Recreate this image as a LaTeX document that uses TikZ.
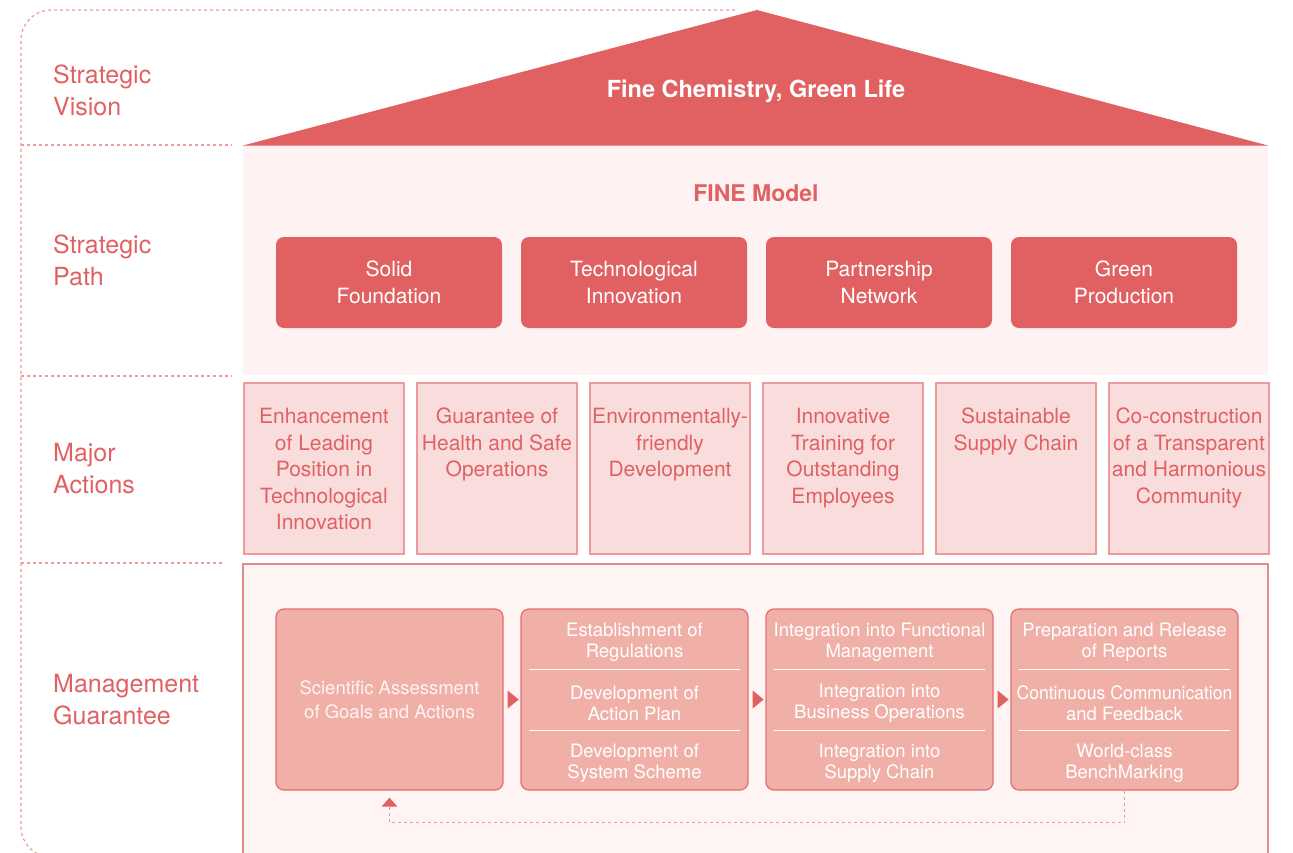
\documentclass[tikz,border=0pt]{standalone}
\usepackage{fontspec}
\setmainfont{TeX Gyre Heros}
\usetikzlibrary{arrows.meta,calc}
\definecolor{cred}{HTML}{E16163}
\definecolor{pathbg}{HTML}{FEF3F2}
\definecolor{actfill}{HTML}{F9DDDD}
\definecolor{actdraw}{HTML}{EE9A9B}
\definecolor{mgmtbg}{HTML}{FEF4F3}
\definecolor{mgmtdraw}{HTML}{E6898B}
\definecolor{mfill}{HTML}{F0B0A8}
\definecolor{mdraw}{HTML}{E27071}
\definecolor{dcol}{HTML}{EE9A9A}
\definecolor{mtxt}{HTML}{FFF4F2}
\begin{document}
\begin{tikzpicture}[x=1pt,y=-1pt,
  lbl/.style={anchor=west,text=cred,font=\fontsize{25}{32}\selectfont,align=left,inner sep=0},
  pbox/.style={fill=cred,rounded corners=8pt,minimum width=226pt,minimum height=91pt,inner sep=0,text=white,font=\fontsize{21}{27}\selectfont,align=center},
  abox/.style={fill=actfill,draw=actdraw,line width=1.2pt,minimum width=160pt,minimum height=171pt,inner sep=0},
  atext/.style={anchor=north,text=cred,font=\fontsize{21}{26.5}\selectfont,align=center,inner sep=0},
  mbox/.style={fill=mfill,draw=mdraw,line width=1.3pt,rounded corners=8pt,minimum width=227pt,minimum height=181pt,inner sep=0},
  mtext/.style={text=white,font=\fontsize{18.5}{21}\selectfont,align=center,inner sep=0},
  sepline/.style={draw=white,line width=0.9pt},
  dsh/.style={draw=dcol,line width=1.2pt,dash pattern=on 3pt off 3pt},
  titletext/.style={text=white,font=\bfseries\fontsize{23.5}{28}\selectfont,inner sep=0}
]
\useasboundingbox (0,0) rectangle (1293,852);
\clip (0,0) rectangle (1293,852);

% outer dashed outline and separators
\draw[dsh,rounded corners=30pt] (735,10) -- (21,10) -- (21,857) -- (120,857);
\draw[dsh] (21,145) -- (232,145);
\draw[dsh] (21,376) -- (232,376);
\draw[dsh] (21,563) -- (222,563);

% left labels
\node[lbl] (lv) at (53,90) {Strategic\\Vision};
\node[lbl] (lp) at (53,260) {Strategic\\Path};
\node[lbl] (la) at (53,469) {Major\\Actions};
\node[lbl] (lm) at (53,700) {Management\\Guarantee};

% roof
\fill[pathbg] (243,145) rectangle (1268,375);
\fill[cred] (243,145.5) -- (757,10) -- (1268,145.5) -- cycle;
\node[titletext] (roof) at (756,91) {Fine Chemistry, Green Life};

% strategic path
\node[text=cred,font=\bfseries\fontsize{23}{28}\selectfont,inner sep=0] (fine) at (756,193) {FINE Model};
\node[pbox] (p1) at (389,282.5) {Solid\\Foundation};
\node[pbox] (p2) at (634,282.5) {Technological\\Innovation};
\node[pbox] (p3) at (879,282.5) {Partnership\\Network};
\node[pbox] (p4) at (1124,282.5) {Green\\Production};

% major actions
\node[abox] (a1) at (324,468.5) {};
\node[abox] (a2) at (497,468.5) {};
\node[abox] (a3) at (670,468.5) {};
\node[abox] (a4) at (843,468.5) {};
\node[abox] (a5) at (1016,468.5) {};
\node[abox] (a6) at (1189,468.5) {};
\node[atext] (t1) at (324,408) {Enhancement\\of Leading\\Position in\\Technological\\Innovation};
\node[atext] (t2) at (497,408) {Guarantee of\\Health and Safe\\Operations};
\node[atext] (t3) at (670,408) {Environmentally-\\friendly\\Development};
\node[atext] (t4) at (843,408) {Innovative\\Training for\\Outstanding\\Employees};
\node[atext] (t5) at (1016,408) {Sustainable\\Supply Chain};
\node[atext] (t6) at (1189,408) {Co-construction\\of a Transparent\\and Harmonious\\Community};

% management guarantee
\draw[fill=mgmtbg,draw=mgmtdraw,line width=1.3pt] (243,564) rectangle (1268,880);
\node[mbox] (m1) at (389.5,699.5) {};
\node[mbox] (m2) at (634.5,699.5) {};
\node[mbox] (m3) at (879.5,699.5) {};
\node[mbox] (m4) at (1124.5,699.5) {};
\foreach \k in {2,3,4}{
  \draw[sepline] ($(m\k.north west)+(9,61)$) -- ($(m\k.north east)+(-9,61)$);
  \draw[sepline] ($(m\k.north west)+(9,122)$) -- ($(m\k.north east)+(-9,122)$);
}
\node[mtext,text=mtxt,font=\fontsize{18.5}{24}\selectfont] (s1) at (389.5,700) {Scientific Assessment\\of Goals and Actions};
\node[mtext] (s21) at (634.5,642) {Establishment of\\Regulations};
\node[mtext] (s22) at (634.5,703) {Development of\\Action Plan};
\node[mtext] (s23) at (634.5,763) {Development of\\System Scheme};
\node[mtext] (s31) at (879.5,642) {Integration into Functional\\Management};
\node[mtext] (s32) at (879.5,703) {Integration into\\Business Operations};
\node[mtext] (s33) at (879.5,763) {Integration into\\Supply Chain};
\node[mtext] (s41) at (1124.5,642) {Preparation and Release\\of Reports};
\node[mtext] (s42) at (1124.5,703) {\scalebox{0.95}[1]{Continuous Communication}\\and Feedback};
\node[mtext] (s43) at (1124.5,763) {World-class\\BenchMarking};

% flow triangles
\foreach \a in {m1,m2,m3}{
  \fill[cred] ($(\a.east)+(4,-9)$) -- ($(\a.east)+(15,0)$) -- ($(\a.east)+(4,9)$) -- cycle;
}
% feedback loop
\coordinate (fbend) at ($(m1.south)+(0,16)$);
\draw[dsh] (m4.south) -- ++(0,32) -| (fbend);
\fill[cred] ($(fbend)+(-8,0)$) -- ($(m1.south)+(0,7)$) -- ($(fbend)+(8,0)$) -- cycle;
\end{tikzpicture}
\end{document}
